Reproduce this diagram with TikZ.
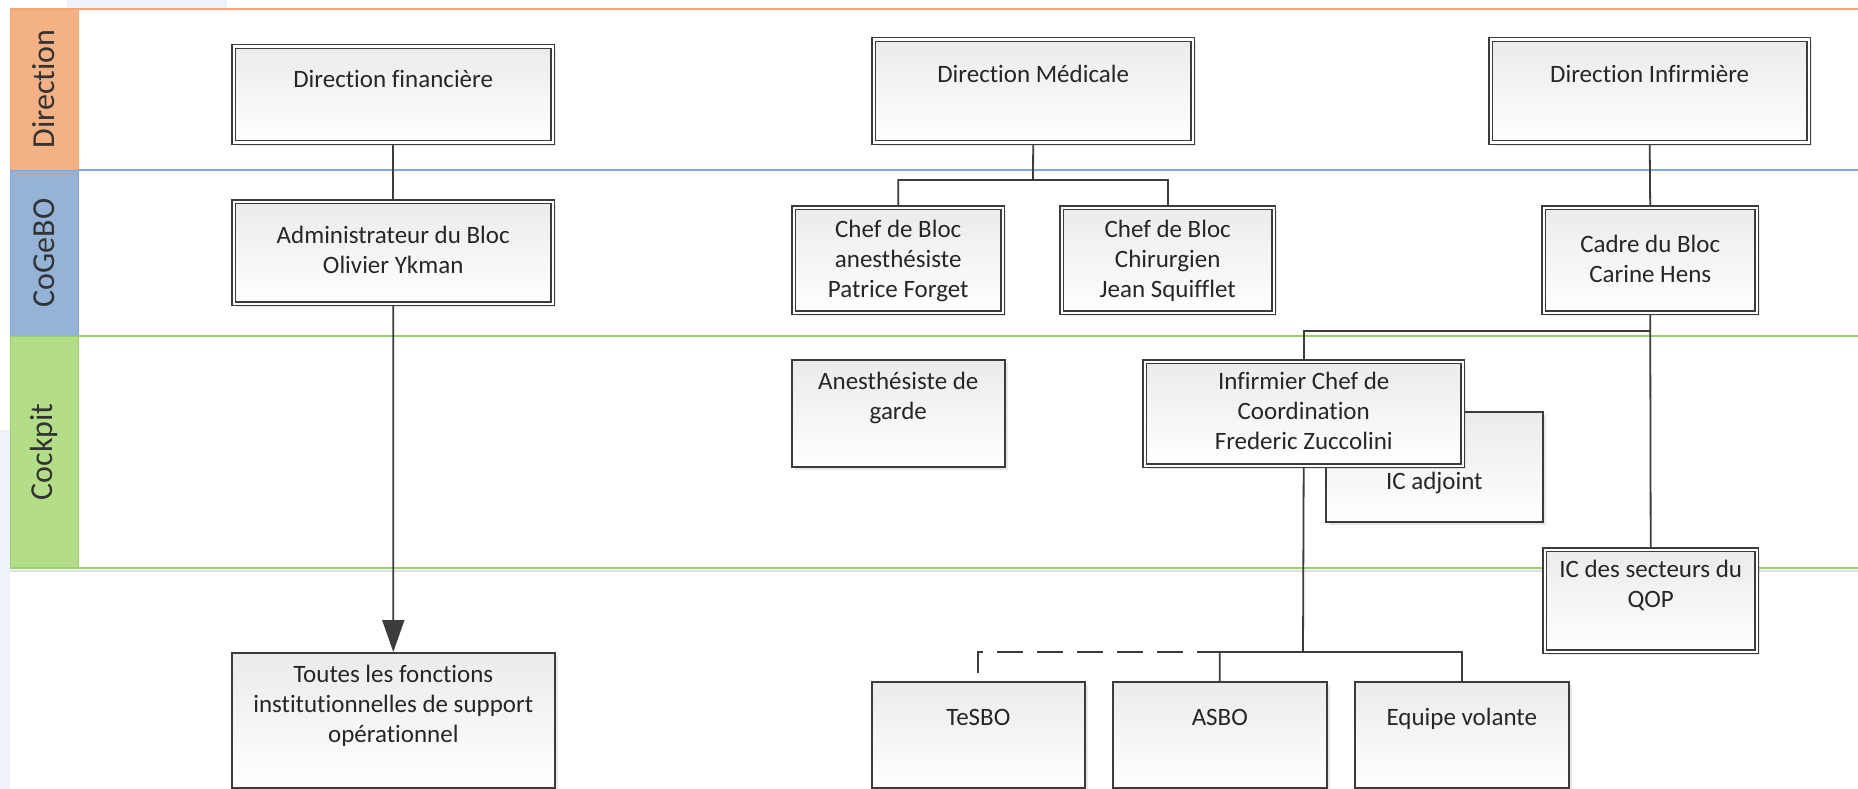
\documentclass[tikz,border=0pt]{standalone}
\usepackage{fontspec}
\setmainfont{Carlito}[Ligatures=NoCommon]
\usetikzlibrary{arrows.meta,shadows}

\definecolor{laneorange}{HTML}{F4B183}
\definecolor{laneorangeedge}{HTML}{F2A872}
\definecolor{laneblue}{HTML}{95B3D7}
\definecolor{laneblueedge}{HTML}{7DA8DA}
\definecolor{lanegreen}{HTML}{B4DD88}
\definecolor{lanegreenedge}{HTML}{98D26A}
\definecolor{boxline}{HTML}{3C3C3C}
\definecolor{boxtop}{HTML}{EBEBEB}
\definecolor{paleblue}{HTML}{EEF2F9}

\pgfdeclarelayer{lanes}
\pgfdeclarelayer{links}
\pgfsetlayers{lanes,links,main}

\begin{document}
\begin{tikzpicture}[x=1pt, y=-1pt,
	box/.style={rectangle, draw=boxline, line width=1.6pt, top color=boxtop, bottom color=white,
		anchor=north west, inner sep=0pt, align=center, text=black!85,
		font=\fontsize{25}{30}\selectfont,
		drop shadow={shadow xshift=3pt, shadow yshift=-3pt, opacity=0.18}},
	dbox/.style={box, line width=1.4pt, double=white, double distance=2.4pt},
	sz/.style n args={3}{minimum width=#1, text height=#2, text depth=#3},
	link/.style={draw=boxline, line width=1.8pt},
	lanelabel/.style={rotate=90, inner sep=0pt, text=black!80, font=\fontsize{32}{38}\selectfont}
]
	\useasboundingbox (0,0) rectangle (1858,789);

	% swimlanes
	\begin{pgfonlayer}{lanes}
	\fill[paleblue] (67,0) rectangle (227,8);
	\fill[paleblue] (0,430) rectangle (10,789);
	\draw[black!12, line width=2pt] (10,571) -- (1858,571);
	\filldraw[fill=laneorange, draw=laneorangeedge, line width=1pt] (10,9) rectangle (78,170);
	\filldraw[fill=laneblue, draw=laneblueedge, line width=1pt] (10,170) rectangle (78,336);
	\filldraw[fill=lanegreen, draw=lanegreenedge, line width=1pt] (10,336) rectangle (78,568);
	\draw[laneorangeedge, line width=1.5pt] (10,9) -- (1858,9);
	\draw[laneblueedge, line width=1.5pt] (78,170) -- (1858,170);
	\draw[lanegreenedge, line width=1.5pt] (78,336) -- (1858,336);
	\draw[lanegreenedge, line width=1.5pt] (10,568) -- (1858,568);
	\node[lanelabel] (ldir) at (44,89) {Direction};
	\node[lanelabel] (lcog) at (44,253) {CoGeBO};
	\node[lanelabel] (lcock) at (44,452) {Cockpit};
	\end{pgfonlayer}

	% Direction
	\node[dbox, sz={319pt}{41pt}{55pt}] (dfin) at (233,46) {Direction financière};
	\node[dbox, sz={319pt}{43pt}{60pt}] (dmed) at (873,39) {Direction Médicale};
	\node[dbox, sz={318pt}{43pt}{60pt}] (dinf) at (1490,39) {Direction Infirmière};

	% CoGeBO
	\node[dbox, sz={319pt}{72pt}{30pt}] (admin) at (233,201) {Administrateur du Bloc\\Olivier Ykman};
	\node[dbox, sz={209pt}{90pt}{15pt}] (chefan) at (793,207) {Chef de Bloc\\anesthésiste\\Patrice Forget};
	\node[dbox, sz={212pt}{90pt}{15pt}] (chefch) at (1061,207) {Chef de Bloc\\Chirurgien\\Jean Squifflet};
	\node[dbox, sz={213pt}{75pt}{30pt}] (cadre) at (1543,207) {Cadre du Bloc\\Carine Hens};

	% Cockpit
	\node[box, sz={213pt}{60pt}{47pt}] (garde) at (791,359) {Anesthésiste de\\garde};
	\node[box, sz={217pt}{78pt}{32pt}] (icadj) at (1325,411) {IC adjoint};
	\node[dbox, sz={318pt}{88pt}{16pt}] (icc) at (1144,361) {Infirmier Chef de\\Coordination\\Frederic Zuccolini};
	\node[dbox, sz={212pt}{58pt}{44pt}] (icqop) at (1544,549) {IC des secteurs du\\QOP};

	% below the lanes
	\node[box, sz={323pt}{90pt}{45pt}] (toutes) at (231,652) {Toutes les fonctions\\institutionnelles de support\\opérationnel};
	\node[box, sz={213pt}{44pt}{62pt}] (tesbo) at (871,681) {TeSBO};
	\node[box, sz={214pt}{44pt}{62pt}] (asbo) at (1112,681) {ASBO};
	\node[box, sz={214pt}{44pt}{62pt}] (equipe) at (1354,681) {Equipe volante};

	% links
	\begin{pgfonlayer}{links}
	\coordinate (medfork) at (1033,180);
	\coordinate (cadrefork) at (1649.5,331);
	\coordinate (iccfork) at (1303,652);

	\draw[link] (dfin.south) -- (admin.north);
	\draw[link, -{Triangle[length=32pt, width=22pt]}] (admin.south) -- (toutes.north);

	\draw[link] (dmed.south) -- (medfork) -| (chefan.north);
	\draw[link] (medfork) -| (chefch.north);

	\draw[link] (dinf.south) -- (cadre.north);
	\draw[link] (cadre.south) -- (icqop.north);
	\draw[link] (cadrefork) -| (icc.north);

	\draw[link] (icc.south) -- (iccfork) -| (asbo.north);
	\draw[link] (iccfork) -| (equipe.north);
	\draw[link, dash pattern=on 26pt off 14pt] (iccfork) -| (tesbo.north);
	\end{pgfonlayer}
\end{tikzpicture}
\end{document}
